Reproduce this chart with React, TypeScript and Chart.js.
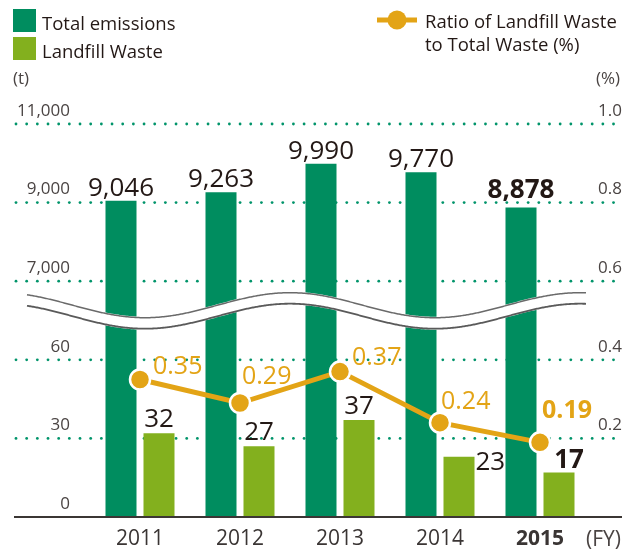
import React, { useEffect, useRef } from 'react';
import { Chart, registerables } from 'chart.js';

Chart.register(...registerables);

// ---------- data ----------
const years = ['2011', '2012', '2013', '2014', '2015'];
const totalEmissions = [9046, 9263, 9990, 9770, 8878];
const landfillWaste = [32, 27, 37, 23, 17];
const landfillRatio = [0.35, 0.29, 0.37, 0.24, 0.19];
const leftTickLabels = ['0', '30', '60', '7,000', '9,000', '11,000'];
const rightTickLabels = ['', '0.2', '0.4', '0.6', '0.8', '1.0'];
const lowerRange = [0, 60]; // shown on 0 .. 0.4 of the axis
const upperRange = [7000, 11000]; // shown on 0.6 .. 1.0 of the axis

const totalLabels = ['9,046', '9,263', '9,990', '9,770', '8,878'];
const ratioLabels = ['0.35', '0.29', '0.37', '0.24', '0.19'];

// ---------- styles ----------
const DARK_GREEN = '#008D5F';
const LIGHT_GREEN = '#83B01E';
const ORANGE = '#E3A416';
const TEXT = '#231815';
const AXIS_TEXT = '#4a4443';
const DOT = '#00946A';
const FONT = "'Open Sans', 'Noto Sans', sans-serif";

function toAxis(v: number): number {
  if (v <= lowerRange[1]) return ((v - lowerRange[0]) / (lowerRange[1] - lowerRange[0])) * 0.4;
  return 0.6 + ((v - upperRange[0]) / (upperRange[1] - upperRange[0])) * 0.4;
}

const decorPlugin = {
  id: 'decor',
  beforeDatasetsDraw(chart: any) {
    const ctx = chart.ctx;
    const y = chart.scales.y;
    ctx.save();
    ctx.fillStyle = DOT;
    [0.2, 0.4, 0.6, 0.8, 1.0].forEach((v) => {
      const py = y.getPixelForValue(v);
      for (let x = 16; x <= 616; x += 10.67) {
        ctx.beginPath();
        ctx.arc(x, py, 1.4, 0, Math.PI * 2);
        ctx.fill();
      }
    });
    ctx.restore();
  },
  afterDatasetsDraw(chart: any) {
    const ctx = chart.ctx;
    const y = chart.scales.y;
    const base = y.getPixelForValue(0);
    ctx.save();
    // baseline
    ctx.strokeStyle = '#3b3634';
    ctx.lineWidth = 2;
    ctx.beginPath();
    ctx.moveTo(14, base);
    ctx.lineTo(622, base);
    ctx.stroke();

    // axis break wave
    const p06 = y.getPixelForValue(0.6);
    const mid = p06 + 24;
    const gap = 11;
    const x0 = 27;
    const x1 = 586;
    const wy = (x: number) => mid + 12.5 * Math.cos((2 * Math.PI * (x - 145)) / 290);
    ctx.fillStyle = '#ffffff';
    ctx.beginPath();
    for (let x = x0; x <= x1; x += 1) {
      if (x === x0) ctx.moveTo(x, wy(x) - 1);
      else ctx.lineTo(x, wy(x) - 1);
    }
    for (let x = x1; x >= x0; x -= 1) ctx.lineTo(x, wy(x) + gap + 1);
    ctx.closePath();
    ctx.fill();
    const strokeWave = (off: number, w: number, col: string) => {
      ctx.strokeStyle = col;
      ctx.lineWidth = w;
      ctx.beginPath();
      for (let x = x0; x <= x1; x += 1) {
        if (x === x0) ctx.moveTo(x, wy(x) + off);
        else ctx.lineTo(x, wy(x) + off);
      }
      ctx.stroke();
    };
    strokeWave(0, 1.5, '#6a6a6a');
    strokeWave(gap, 1.8, '#5a5a5a');
    ctx.restore();
  },
  afterDraw(chart: any) {
    const ctx = chart.ctx;
    ctx.save();
    // legend
    ctx.fillStyle = DARK_GREEN;
    ctx.fillRect(13, 9, 23, 23);
    ctx.fillStyle = LIGHT_GREEN;
    ctx.fillRect(13, 37, 23, 23);
    ctx.font = `18.5px ${FONT}`;
    ctx.fillStyle = TEXT;
    ctx.textAlign = 'left';
    ctx.textBaseline = 'alphabetic';
    ctx.fillText('Total emissions', 42, 30);
    ctx.fillText('Landfill Waste', 42, 58);
    ctx.strokeStyle = ORANGE;
    ctx.lineWidth = 5;
    ctx.beginPath();
    ctx.moveTo(377, 20);
    ctx.lineTo(417, 20);
    ctx.stroke();
    ctx.fillStyle = ORANGE;
    ctx.beginPath();
    ctx.arc(397, 20, 9.5, 0, Math.PI * 2);
    ctx.fill();
    ctx.fillStyle = TEXT;
    ctx.fillText('Ratio of Landfill Waste', 425, 28);
    ctx.fillText('to Total Waste (%)', 425, 51);

    // units
    ctx.font = `17px ${FONT}`;
    ctx.fillStyle = AXIS_TEXT;
    ctx.fillText('(t)', 13, 84);
    ctx.textAlign = 'right';
    ctx.fillText('(%)', 620, 84);
    ctx.font = `21px ${FONT}`;
    ctx.textBaseline = 'middle';
    ctx.fillText('(FY)', 621, 540);

    // values: total emissions
    ctx.textBaseline = 'alphabetic';
    ctx.textAlign = 'center';
    const m0 = chart.getDatasetMeta(0);
    m0.data.forEach((el: any, i: number) => {
      const bold = i === 4;
      ctx.font = `${bold ? 'bold ' : ''}26px ${FONT}`;
      ctx.fillStyle = TEXT;
      ctx.fillText(totalLabels[i], el.x, el.y - (bold ? 9 : 5));
    });
    // values: landfill waste
    const m1 = chart.getDatasetMeta(1);
    m1.data.forEach((el: any, i: number) => {
      const bold = i === 4;
      ctx.font = `${bold ? 'bold ' : ''}26px ${FONT}`;
      ctx.fillStyle = TEXT;
      const txt = String(landfillWaste[i]);
      if (i === 3) {
        ctx.textAlign = 'left';
        ctx.fillText(txt, el.x + el.width / 2 + 1, el.y + 13);
        ctx.textAlign = 'center';
      } else if (i === 4) {
        ctx.fillText(txt, el.x + 10, el.y - 4);
      } else {
        ctx.fillText(txt, el.x, el.y - 6);
      }
    });
    // values: ratio
    const m2 = chart.getDatasetMeta(2);
    const offs = [
      [13, -5],
      [2, -19],
      [12, -7],
      [1, -14],
      [2, -24],
    ];
    ctx.textAlign = 'left';
    m2.data.forEach((el: any, i: number) => {
      const bold = i === 4;
      ctx.font = `${bold ? 'bold ' : ''}25px ${FONT}`;
      ctx.fillStyle = ORANGE;
      ctx.fillText(ratioLabels[i], el.x + offs[i][0], el.y + offs[i][1]);
    });
    ctx.restore();
  },
};

export default function App() {
  const ref = useRef<HTMLCanvasElement | null>(null);

  useEffect(() => {
    if (!ref.current) return;
    const chart = new Chart(ref.current, {
      type: 'bar',
      data: {
        labels: years,
        datasets: [
          {
            label: 'Total emissions',
            data: totalEmissions.map(toAxis),
            backgroundColor: DARK_GREEN,
            categoryPercentage: 0.76,
            barPercentage: 0.816,
            stack: 'total',
            order: 2,
          } as any,
          {
            label: 'Landfill Waste',
            data: landfillWaste.map(toAxis),
            backgroundColor: LIGHT_GREEN,
            categoryPercentage: 0.76,
            barPercentage: 0.816,
            stack: 'landfill',
            order: 2,
          } as any,
          {
            type: 'line',
            label: 'Ratio of Landfill Waste to Total Waste (%)',
            data: landfillRatio,
            yAxisID: 'y',
            borderColor: ORANGE,
            borderWidth: 5,
            backgroundColor: ORANGE,
            pointRadius: 10,
            pointBackgroundColor: ORANGE,
            pointBorderColor: '#ffffff',
            pointBorderWidth: 2.5,
            tension: 0,
            order: 1,
          } as any,
        ],
      },
      options: {
        animation: false,
        responsive: false,
        devicePixelRatio: 1,
        layout: { padding: { top: 124, right: 13, left: 0, bottom: 0 } },
        plugins: {
          legend: { display: false },
          tooltip: { enabled: false },
        },
        scales: {
          x: {
            type: 'category',
            offset: true,
            grid: { display: false, drawTicks: false },
            border: { display: false },
            ticks: {
              padding: 9,
              color: '#3a3534',
              font: (c: any) => ({ family: FONT, size: 21, weight: c.index === 4 ? 'bold' : 'normal' }),
            },
            afterFit: (s: any) => {
              s.height = 36;
            },
          },
          y: {
            position: 'left',
            min: 0,
            max: 1,
            grid: { display: false, drawTicks: false },
            border: { display: false },
            ticks: {
              stepSize: 0.2,
              padding: 20,
              labelOffset: -13,
              color: AXIS_TEXT,
              font: { family: FONT, size: 17 },
              callback: (_v: any, i: number) => leftTickLabels[i],
            },
            afterFit: (s: any) => {
              s.width = 90;
            },
          },
          y1: {
            position: 'right',
            min: 0,
            max: 1,
            grid: { display: false, drawTicks: false },
            border: { display: false },
            ticks: {
              stepSize: 0.2,
              crossAlign: 'far',
              labelOffset: -13,
              color: AXIS_TEXT,
              font: { family: FONT, size: 17 },
              callback: (_v: any, i: number) => rightTickLabels[i],
            },
            afterFit: (s: any) => {
              s.width = 32;
            },
          },
        },
      } as any,
      plugins: [decorPlugin],
    });
    return () => chart.destroy();
  }, []);

  return (
    <div style={{ position: 'absolute', left: 0, top: 0, width: 635, height: 553, background: '#fff' }}>
      <canvas ref={ref} width={635} height={553} style={{ display: 'block', width: 635, height: 553 }} />
    </div>
  );
}
